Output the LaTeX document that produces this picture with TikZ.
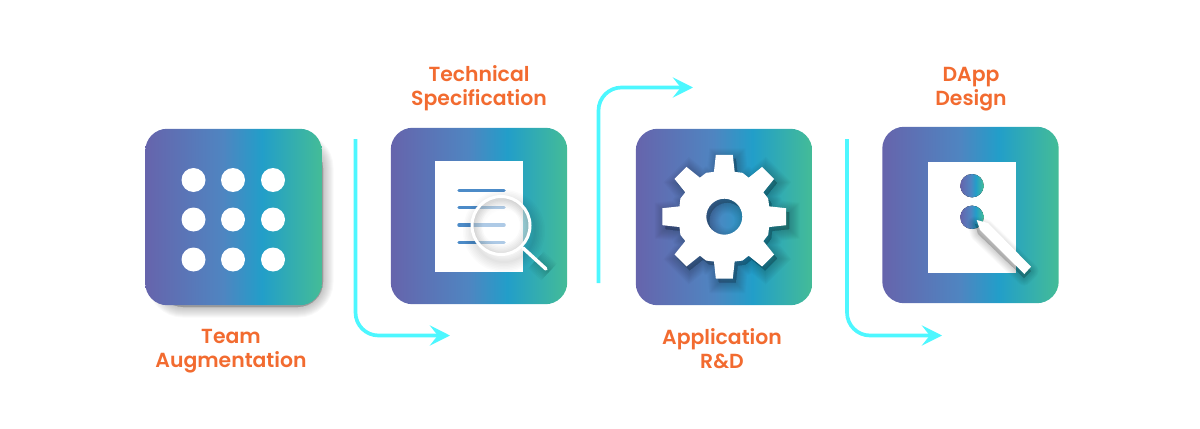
\documentclass[tikz,border=0pt]{standalone}
\usepackage{fontspec}
\newfontfamily\labelfont{Poppins SemiBold}
\usetikzlibrary{arrows.meta}

\definecolor{tilea}{HTML}{6664AC}
\definecolor{tileb}{HTML}{4F85C1}
\definecolor{tilec}{HTML}{229EC9}
\definecolor{tiled}{HTML}{44BC97}
\definecolor{flowcyan}{HTML}{4DF7FF}
\definecolor{labelorange}{HTML}{F26B30}
\definecolor{rowblue}{HTML}{4C8BC8}

\pgfdeclarehorizontalshading{tilefill}{100bp}{color(0bp)=(tilea); color(25bp)=(tilea); color(47bp)=(tileb); color(58bp)=(tilec); color(75bp)=(tiled); color(100bp)=(tiled)}

\tikzset{
  tile/.style={shading=tilefill, rounded corners=.44cm, minimum size=3.53cm, inner sep=0pt},
  steplabel/.style={text=labelorange, align=center, font=\labelfont\fontsize{11.6}{13.7}\selectfont},
  flow/.style={draw=flowcyan, line width=2.1pt, rounded corners=.46cm, -{Stealth[length=11.5pt,width=11.5pt,inset=4.5pt]}},
  sheet/.style={fill=white},
  soft/.style={black, opacity=.022},
}
\newcommand{\gearoutline}{(-13:46) \foreach \a in {0,45,...,315} { -- (\a-13:46) -- (\a-7.8:62.5) -- (\a+7.8:62.5) -- (\a+13:46) -- (\a+22.5:47.5)} -- cycle (0,0) circle (18)}

\begin{document}
\begin{tikzpicture}[x=.02cm,y=-.02cm]
\useasboundingbox (0,0) rectangle (1200,429);

% shadow of the first tile
\foreach \w in {1,3,...,21}
  \fill[soft, draw=black, line width=\w*.02cm, rounded corners=.5cm] (158,143) rectangle (323,307);

\node[tile] (tileteam) at (233.5,217) {};
\node[tile] (tilespec) at (479,216) {};
\node[tile] (tileapp) at (724,217) {};
\node[tile] (tiledapp) at (970.5,215) {};

% dots
\foreach \x in {193.5,233,273}
  \foreach \y in {180,219.5,259.5}
    \fill[white] (\x,\y) circle (12);

% page and magnifier
\fill[sheet] (435,161) rectangle (523,272);
\foreach \y in {190.5,207.5,225,242.5}
  \draw[rowblue, line width=3.5*.02cm, line cap=round] (459,\y) -- (504,\y);
\foreach \w in {2,5,...,20}
  \draw[black, opacity=.014, line width=\w*.02cm] (504,231) circle (31);
\foreach \w in {2,5,...,23}
  \draw[soft, line width=\w*.02cm] (536,260) -- (549,272);
\fill[white, opacity=.55] (501,225.5) circle (29);
\begin{scope}
  \clip (501,225.5) circle (29);
  \foreach \w in {2,5,...,20}
    \draw[black, opacity=.018, line width=\w*.02cm] (501,225.5) circle (29);
\end{scope}
\draw[white, line width=3*.02cm] (501,225.5) circle (29);
\draw[white, line width=3.5*.02cm, line cap=round] (523,248) -- (546,269);

% gear
\begin{scope}[shift={(724.3,216.7)}]
  \begin{scope}[shift={(3,4)}]
    \foreach \w in {1,3,...,21}
      \fill[black, opacity=.018, even odd rule, draw=black, line width=\w*.02cm] \gearoutline;
  \end{scope}
  \fill[white, even odd rule] \gearoutline;
\end{scope}

% page and pencil
\fill[sheet] (928,162) rectangle (1016,272.5);
\fill[shading=tilefill] (972,185.7) circle (11.7);
\fill[shading=tilefill] (972,217.3) circle (11.7);
\foreach \w in {1,3,...,15}
  \fill[soft, draw=black, line width=\w*.02cm, line join=round] (975,224) -- (986,227) -- (1031,271) -- (1024,278) -- (978,234) -- cycle;
\fill[white] (976.7,220) -- (988,223) -- (1031,266.7) -- (1024.3,274) -- (980,230) -- cycle;

% arrows
\coordinate (flowastart) at (355.5,139);
\coordinate (flowaend) at (450,335.5);
\coordinate (flowbstart) at (598.5,283);
\coordinate (flowbend) at (693,87.5);
\coordinate (flowcstart) at (847,139);
\coordinate (flowcend) at (942,335.5);
\draw[flow] (flowastart) |- (flowaend);
\draw[flow] (flowbstart) |- (flowbend);
\draw[flow] (flowcstart) |- (flowcend);

% labels
\node[steplabel] (labelteam) at (231,351) {Team\\Augmentation};
\node[steplabel] (labelspec) at (479,88) {Technical\\Specification};
\node[steplabel] (labelapp) at (722,349) {Application\\R\&D};
\node[steplabel] (labeldapp) at (971,89) {DApp\\Design};
\end{tikzpicture}
\end{document}
